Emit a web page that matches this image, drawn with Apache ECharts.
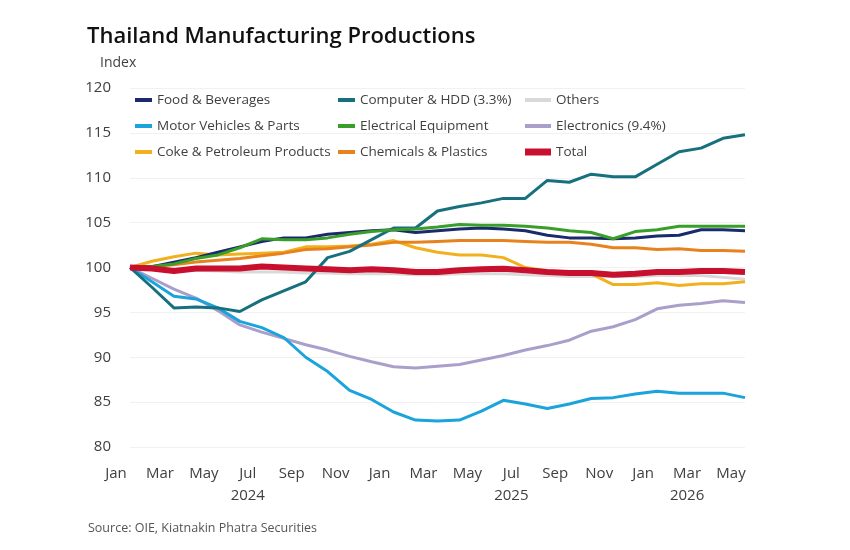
<!DOCTYPE html>
<html>
<head>
<meta charset="utf-8">
<title>Thailand Manufacturing Productions</title>
<script src="https://cdn.jsdelivr.net/npm/echarts@6/dist/echarts.min.js"></script>
<style>
  html, body { margin: 0; padding: 0; background: #fff; }
  #chart { width: 850px; height: 550px; }
</style>
</head>
<body>
<div id="chart"></div>
<script>
// monthly, Jan 2024 .. May 2026
var months = ['Jan','Feb','Mar','Apr','May','Jun','Jul','Aug','Sep','Oct','Nov','Dec',
              'Jan','Feb','Mar','Apr','May','Jun','Jul','Aug','Sep','Oct','Nov','Dec',
              'Jan','Feb','Mar','Apr','May'];
var years = ['','','','','','','2024','','','','','',
             '','','','','','','2025','','','','','',
             '','','2026','',''];

var food = [100, 100.1, 100.6, 101.1, 101.7, 102.3, 102.9, 103.3, 103.3, 103.7, 103.9, 104.1,
            104.2, 103.9, 104.1, 104.3, 104.4, 104.3, 104.1, 103.6, 103.3, 103.3, 103.2, 103.3,
            103.5, 103.6, 104.2, 104.2, 104.1];
var computer = [100, 97.8, 95.5, 95.6, 95.5, 95.1, 96.4, 97.4, 98.4, 101.1, 101.8, 103.1,
                104.4, 104.4, 106.3, 106.8, 107.2, 107.7, 107.7, 109.7, 109.5, 110.4, 110.1, 110.1,
                111.5, 112.9, 113.3, 114.4, 114.8];
var others = [100, 99.8, 99.6, 99.7, 99.6, 99.5, 99.5, 99.5, 99.4, 99.4, 99.3, 99.3,
              99.3, 99.2, 99.2, 99.3, 99.3, 99.3, 99.2, 99.1, 99.0, 99.0, 99.0, 99.0,
              99.1, 99.1, 99.1, 98.9, 98.7];
var motor = [100, 98.4, 96.8, 96.5, 95.5, 94.0, 93.3, 92.2, 90.0, 88.4, 86.3, 85.3,
             83.9, 83.0, 82.9, 83.0, 84.0, 85.2, 84.8, 84.3, 84.8, 85.4, 85.5, 85.9,
             86.2, 86.0, 86.0, 86.0, 85.5];
var electrical = [100, 100.1, 100.4, 101.0, 101.4, 102.2, 103.2, 103.1, 103.1, 103.3, 103.7, 104.0,
                  104.2, 104.3, 104.5, 104.8, 104.7, 104.7, 104.6, 104.4, 104.1, 103.9, 103.2, 104.0,
                  104.2, 104.6, 104.6, 104.6, 104.6];
var electronics = [100, 98.8, 97.6, 96.6, 95.2, 93.6, 92.8, 92.1, 91.4, 90.8, 90.1, 89.5,
                   88.95, 88.8, 89.0, 89.2, 89.7, 90.2, 90.8, 91.3, 91.9, 92.9, 93.4, 94.2,
                   95.4, 95.8, 96.0, 96.3, 96.1];
var coke = [100, 100.7, 101.2, 101.6, 101.4, 101.5, 101.6, 101.7, 102.3, 102.3, 102.4, 102.6,
            103.0, 102.2, 101.7, 101.4, 101.4, 101.1, 100.0, 99.6, 99.4, 99.3, 98.1, 98.1,
            98.3, 98.0, 98.2, 98.2, 98.4];
var chemicals = [100, 100.1, 100.3, 100.6, 100.8, 101.0, 101.3, 101.6, 102.0, 102.1, 102.3, 102.5,
                 102.8, 102.8, 102.9, 103.0, 103.0, 103.0, 102.9, 102.8, 102.8, 102.6, 102.2, 102.2,
                 102.0, 102.1, 101.9, 101.9, 101.8];
var total = [100, 99.9, 99.6, 99.9, 99.9, 99.9, 100.1, 100.0, 99.9, 99.8, 99.7, 99.8,
             99.7, 99.5, 99.5, 99.7, 99.8, 99.85, 99.7, 99.5, 99.4, 99.4, 99.2, 99.3,
             99.5, 99.5, 99.6, 99.6, 99.5];

var font = 'Open Sans';
var txt = '#404040';

function line(name, data, color, width) {
    return {
        name: name,
        type: 'line',
        data: data,
        symbol: 'none',
        color: color,
        lineStyle: { color: color, width: width || 3 },
        animation: false
    };
}

function legendCol(left, top, names, w, h) {
    return {
        left: left,
        top: top,
        padding: 0,
        orient: 'vertical',
        icon: 'rect',
        itemWidth: w,
        itemHeight: h,
        itemGap: 10,
        itemStyle: { borderWidth: 0 },
        textStyle: { fontFamily: font, fontSize: 13.5, color: txt, lineHeight: 16 },
        selectedMode: false,
        data: names
    };
}

var myChart = echarts.init(document.getElementById('chart'), null, { renderer: 'canvas' });

var option = {
    backgroundColor: '#fff',
    animation: false,
    title: [
        { text: 'Thailand Manufacturing Productions', left: 87, top: 26, padding: 0,
          textStyle: { fontFamily: font, fontSize: 22, fontWeight: 600, color: '#111' } },
        { text: 'Index', left: 100, top: 56, padding: 0,
          textStyle: { fontFamily: font, fontSize: 14, fontWeight: 'normal', color: txt } },
        { text: 'Source: OIE, Kiatnakin Phatra Securities', left: 88, top: 522, padding: 0,
          textStyle: { fontFamily: font, fontSize: 12.5, fontWeight: 'normal', color: '#555' } }
    ],
    legend: [
        legendCol(135, 92, ['Food & Beverages', 'Motor Vehicles & Parts', 'Coke & Petroleum Products'], 17, 4),
        legendCol(338, 92, ['Computer & HDD (3.3%)', 'Electrical Equipment', 'Chemicals & Plastics'], 17, 4),
        legendCol(525, 92, ['Others', 'Electronics (9.4%)'], 26, 4),
        legendCol(525, 144, ['Total'], 26, 7)
    ],
    grid: { left: 130, right: 105, top: 88, bottom: 103 },
    xAxis: [
        {
            type: 'category',
            data: months,
            boundaryGap: false,
            axisLine: { show: false },
            axisTick: { show: false },
            axisLabel: { interval: 1, margin: 19, fontFamily: font, fontSize: 15, color: txt, padding: [0, 28, 0, 0] }
        },
        {
            type: 'category',
            data: years,
            boundaryGap: false,
            position: 'bottom',
            axisLine: { show: false },
            axisTick: { show: false },
            axisLabel: { interval: 0, margin: 41, fontFamily: font, fontSize: 15, color: txt, padding: [0, 28, 0, 0] }
        }
    ],
    yAxis: {
        type: 'value',
        min: 80,
        max: 120,
        interval: 5,
        axisLine: { show: false },
        axisTick: { show: false },
        splitLine: { lineStyle: { color: '#f1f1f1', width: 1 } },
        axisLabel: { margin: 19, fontFamily: font, fontSize: 15, color: txt }
    },
    series: [
        line('Others', others, '#d9d9d9'),
        line('Electronics (9.4%)', electronics, '#aa9fca'),
        line('Motor Vehicles & Parts', motor, '#1ba3dc'),
        line('Coke & Petroleum Products', coke, '#f2b01e'),
        line('Chemicals & Plastics', chemicals, '#e8821e'),
        line('Computer & HDD (3.3%)', computer, '#17707d'),
        line('Food & Beverages', food, '#1b2a6b'),
        line('Electrical Equipment', electrical, '#3a9e2a'),
        line('Total', total, '#c8102e', 6)
    ]
};

myChart.setOption(option);
window.onresize = function () {
    myChart.resize();
};
</script>
</body>
</html>
